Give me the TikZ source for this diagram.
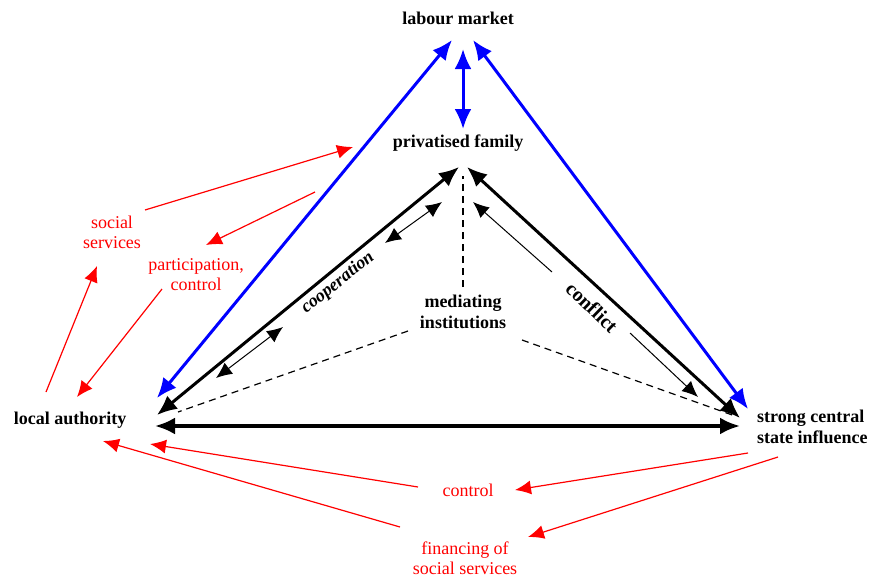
\documentclass[tikz,border=0pt]{standalone}
\usepackage{fontspec}
\setmainfont{Liberation Serif}
\usetikzlibrary{arrows.meta}

\tikzset{
  actor/.style={font=\fontsize{18}{21}\selectfont\bfseries, align=center, inner sep=1pt},
  note/.style={font=\fontsize{18}{20}\selectfont, text=red, align=center, inner sep=1pt},
  big/.tip={Latex[length=20pt,width=17pt]},
  small/.tip={Latex[length=16pt,width=14pt]},
  tie/.style={draw=blue, line width=3pt, big-big},
  link/.style={line width=3pt, big-big},
  weak/.style={line width=1pt, -small},
  weakboth/.style={line width=1pt, small-small},
  flow/.style={draw=red, line width=1.2pt, -{Latex[length=16pt,width=14pt]}},
  medi/.style={dash pattern=on 7pt off 5pt, line width=1.2pt}
}

\begin{document}
\begin{tikzpicture}[x=1pt,y=-1pt]
\useasboundingbox (0,0) rectangle (869,578);

\node[actor] (lab) at (458,18) {labour market};
\node[actor] (fam) at (458,143) {privatised family};
\node[actor] (med) at (463,312) {mediating\\institutions};
\node[actor] (loc) at (70,420) {local authority};
\node[actor, align=left, anchor=west] (cen) at (756,427) {strong central\\state influence};
\node[note] (soc) at (112,232) {social\\services};
\node[note] (par) at (196,275) {participation,\\control};
\node[note] (con) at (468,490) {control};
\node[note] (fin) at (465,558) {financing of\\social services};
\node[actor, font=\fontsize{18}{20}\selectfont\bfseries\itshape, rotate=38.8] (coop) at (338,283) {cooperation};
\node[actor, font=\fontsize{20}{22}\selectfont\bfseries, rotate=-44] (conf) at (592,307) {conflict};

\coordinate (labL) at (452,40);
\coordinate (labC) at (463,49);
\coordinate (labR) at (473,40);
\coordinate (famB) at (463,129);
\coordinate (famL) at (459,167);
\coordinate (famR) at (467,167);
\coordinate (locT) at (157,398);
\coordinate (locM) at (157,415);
\coordinate (locB) at (155,426);
\coordinate (cenT) at (748,409);
\coordinate (cenM) at (740,418);
\coordinate (cenB) at (740,426);

\draw[tie] (labL) -- (locT);
\draw[tie] (labC) -- (famB);
\draw[tie] (labR) -- (cenT);
\draw[link] (famL) -- (locM);
\draw[link] (famR) -- (cenM);
\draw[link, line width=3.6pt] (locB) -- (cenB);

\draw[weakboth] (216,378) coordinate (c1) -- (283,327) coordinate (c2);
\draw[weakboth] (385,243) coordinate (c3) -- (442,202) coordinate (c4);
\draw[weak] (552,272) coordinate (k1) -- (473,202) coordinate (k2);
\draw[weak] (630,333) coordinate (k3) -- (698,397) coordinate (k4);

\draw[medi, line width=2.4pt] (463,287) coordinate (m0) -- (463,176) coordinate (m1);
\draw[medi] (408,331) coordinate (m2) -- (178,412);
\draw[medi] (522,340) coordinate (m3) -- (735,416);

\foreach \a/\b in {{145,210}/{353,147}, {315,192}/{206,245}, {46,392}/{97,266}, {162,289}/{77,397},
                   {418,487}/{150,444}, {400,527}/{103,441}, {748,453}/{515,490}, {778,457}/{528,537}}
\draw[flow] (\a) -- (\b);
\end{tikzpicture}
\end{document}
